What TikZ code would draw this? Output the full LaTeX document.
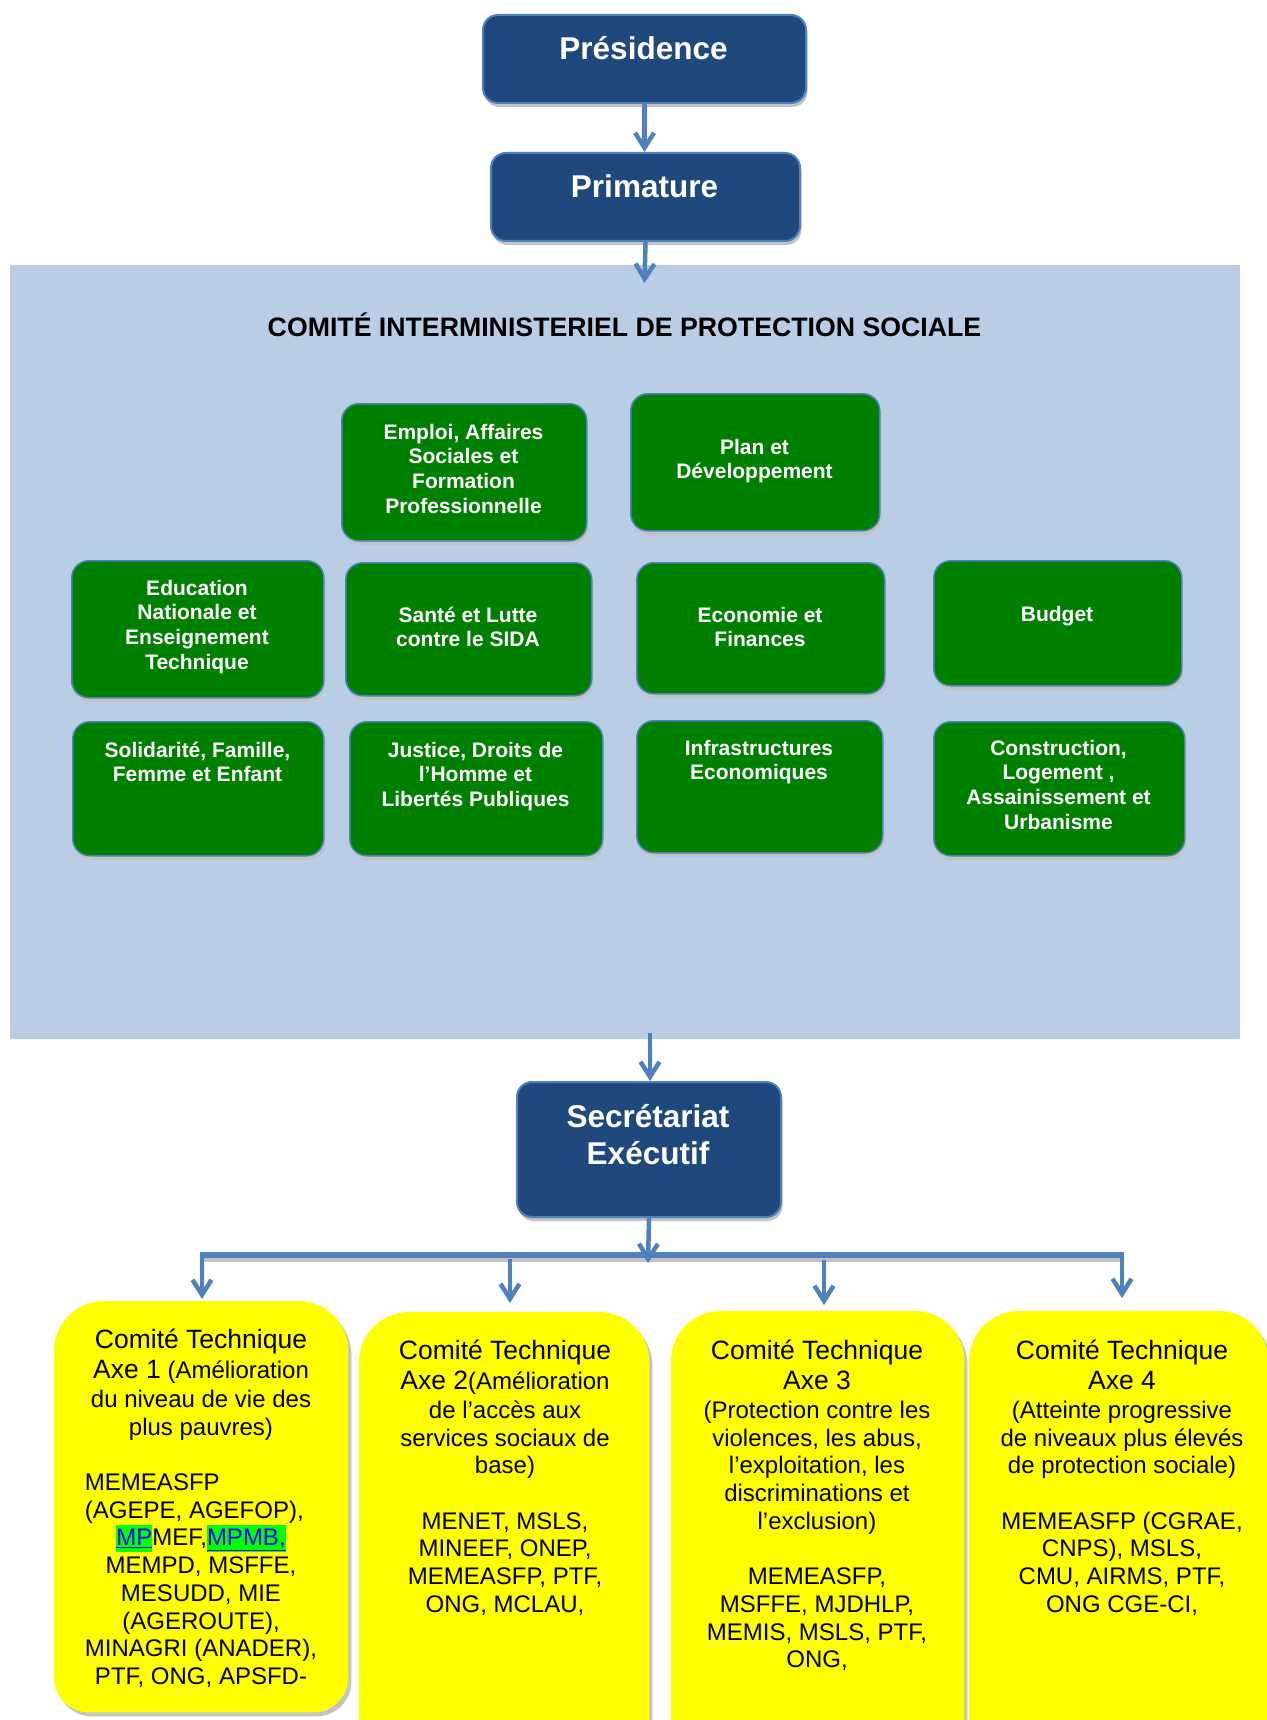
\documentclass[tikz,border=0pt]{standalone}
\usepackage{fontspec}
\setmainfont{Liberation Sans}
\usepackage{calc}
\usetikzlibrary{arrows.meta,shadows}
\definecolor{navy}{RGB}{31,73,125}
\definecolor{edgeblue}{RGB}{79,129,189}
\definecolor{panelblue}{RGB}{185,205,229}
\definecolor{mgreen}{RGB}{0,128,0}
\definecolor{hlgreen}{RGB}{0,255,0}
\definecolor{linkblue}{RGB}{0,0,255}
\definecolor{shadowgray}{RGB}{195,195,195}
\definecolor{yfill}{RGB}{255,255,0}
\newcommand{\hlt}[1]{{\setlength{\fboxsep}{0pt}\colorbox{hlgreen}{\rule[-6pt]{0pt}{27pt}\textcolor{linkblue}{\underline{#1}}}}}
\newcommand{\ttl}[1]{{\fontsize{26.5}{27.7}\selectfont #1}}
\tikzset{
  myshadow/.style={drop shadow={shadow xshift=1.5pt, shadow yshift=-4pt, fill=shadowgray, opacity=1}},
  bluebox/.style={draw=edgeblue, line width=2pt, fill=navy, rounded corners=15pt, inner sep=0pt, anchor=north west, myshadow},
  greenbox/.style={draw=edgeblue, line width=1.5pt, fill=mgreen, rounded corners=17pt, inner sep=0pt, anchor=north west, myshadow},
  bluetext/.style={text=white, font=\fontsize{31.5}{37}\selectfont\bfseries, anchor=base, inner sep=0pt},
  greentext/.style={text=white, font=\fontsize{21}{24.7}\selectfont\bfseries, anchor=base, inner sep=0pt},
  ytext/.style={text=black, font=\fontsize{24}{27.7}\selectfont, anchor=base, inner sep=0pt},
  yslot/.style={anchor=north west, inner sep=0pt},
  arr/.style={draw=edgeblue, line width=4.5pt, -{Straight Barb[length=15pt,width=19pt]}},
}
\begin{document}
\begin{tikzpicture}[x=1pt,y=-1pt]
\useasboundingbox (0,0) rectangle (1266,1720);
\fill[white] (0,0) rectangle (1266,1720);

% panel
\node[fill=panelblue, anchor=north west, minimum width=1230pt, minimum height=774pt, inner sep=0pt] (panel) at (10,265) {};
\node[font=\fontsize{26.7}{30}\selectfont\bfseries, anchor=base, inner sep=0pt] (title) at (624.5,336.7) {COMITÉ INTERMINISTERIEL DE PROTECTION SOCIALE};

% green boxes
\node[greenbox, minimum width=245pt, minimum height=137pt] (emploi) at (341,403) {};
\node[greenbox, minimum width=249pt, minimum height=137pt] (plan) at (630,393) {};
\node[greenbox, minimum width=252pt, minimum height=137pt] (educ) at (71,560) {};
\node[greenbox, minimum width=246pt, minimum height=133pt] (sante) at (345,562) {};
\node[greenbox, minimum width=248pt, minimum height=131pt] (eco) at (636,562) {};
\node[greenbox, minimum width=248pt, minimum height=125pt] (budget) at (933,560) {};
\node[greenbox, minimum width=251pt, minimum height=134pt] (solid) at (72,721) {};
\node[greenbox, minimum width=253pt, minimum height=134pt] (justice) at (349,721) {};
\node[greenbox, minimum width=246pt, minimum height=132pt] (infra) at (636,720) {};
\node[greenbox, minimum width=251pt, minimum height=134pt] (constr) at (933,721) {};

\node[greentext] (temploi) at (463.5,439) {\parbox[t]{240pt}{\centering Emploi, Affaires\\Sociales et\\Formation\\Professionnelle}};
\node[greentext] (tplan) at (754.5,454) {\parbox[t]{240pt}{\centering Plan et\\Développement}};
\node[greentext] (teduc) at (197,595) {\parbox[t]{240pt}{\centering Education\\Nationale et\\Enseignement\\Technique}};
\node[greentext] (tsante) at (468,622) {\parbox[t]{240pt}{\centering Santé et Lutte\\contre le SIDA}};
\node[greentext] (teco) at (760,622) {\parbox[t]{240pt}{\centering Economie et\\Finances}};
\node[greentext] (tbudget) at (1057,621) {\parbox[t]{240pt}{\centering Budget}};
\node[greentext] (tsolid) at (197.5,757) {\parbox[t]{245pt}{\centering Solidarité, Famille,\\Femme et Enfant}};
\node[greentext] (tjustice) at (475.5,757) {\parbox[t]{245pt}{\centering Justice, Droits de\\l’Homme et\\Libertés Publiques}};
\node[greentext] (tinfra) at (759,755) {\parbox[t]{240pt}{\centering Infrastructures\\Economiques}};
\node[greentext] (tconstr) at (1058.5,755) {\parbox[t]{245pt}{\centering Construction,\\Logement ,\\Assainissement et\\Urbanisme}};

% blue boxes
\node[bluebox, minimum width=323pt, minimum height=88pt] (pres) at (482,14) {};
\node[bluebox, minimum width=309pt, minimum height=88pt] (prim) at (490,152) {};
\node[bluebox, minimum width=264pt, minimum height=135pt] (sec) at (516,1081) {};
\node[bluetext] (tpres) at (643.5,59.3) {Présidence};
\node[bluetext] (tprim) at (644.5,197.7) {Primature};
\node[bluetext] (tsec) at (648,1127) {\parbox[t]{250pt}{\centering Secrétariat\\Exécutif}};

% yellow boxes (slots)
\node[yslot, minimum width=294pt, minimum height=411pt] (ax1) at (54,1301) {};
\node[yslot, minimum width=290pt, minimum height=470pt] (ax2) at (359,1312) {};
\node[yslot, minimum width=293pt, minimum height=470pt] (ax3) at (671,1311) {};
\node[yslot, minimum width=299pt, minimum height=470pt] (ax4) at (969,1311) {};

\foreach \b in {ax1,ax2,ax3,ax4}{
  \fill[shadowgray, transform canvas={shift={(3pt,-4pt)}}] (\b.west) [rounded corners=50pt] -- (\b.north west) -- (\b.north east) -- (\b.east) [rounded corners=35pt] -- (\b.south east) -- (\b.south west) -- cycle;
  \fill[yfill] (\b.west) [rounded corners=50pt] -- (\b.north west) -- (\b.north east) -- (\b.east) [rounded corners=35pt] -- (\b.south east) -- (\b.south west) -- cycle;
}

\node[ytext] (tax1) at (201,1348) {\parbox[t]{300pt}{\centering
\ttl{Comité Technique}\\[3pt]
\ttl{Axe 1} (Amélioration\\[1pt]
du niveau de vie des\\
plus pauvres)\\[27.7pt]
\makebox[\widthof{MINAGRI (ANADER),}][l]{MEMEASFP}\\
\makebox[\widthof{MINAGRI (ANADER),}][l]{(AGEPE, AGEFOP),}\\
\hlt{MP}MEF,\hlt{MPMB,}\\
MEMPD, MSFFE,\\
MESUDD, MIE\\
(AGEROUTE),\\
MINAGRI (ANADER),\\
PTF, ONG, APSFD-}};

\node[ytext] (tax2) at (505,1359) {\parbox[t]{300pt}{\centering
\ttl{Comité Technique}\\[3pt]
\ttl{Axe 2}(Amélioration\\[1pt]
de l’accès aux\\
services sociaux de\\
base)\\[27.7pt]
MENET, MSLS,\\
MINEEF, ONEP,\\
MEMEASFP, PTF,\\
ONG, MCLAU,}};

\node[ytext] (tax3) at (817,1359) {\parbox[t]{300pt}{\centering
\ttl{Comité Technique}\\[3pt]
\ttl{Axe 3}\\[1pt]
(Protection contre les\\
violences, les abus,\\
l’exploitation, les\\
discriminations et\\
l’exclusion)\\[27.7pt]
MEMEASFP,\\
MSFFE, MJDHLP,\\
MEMIS, MSLS, PTF,\\
ONG,}};

\node[ytext] (tax4) at (1122,1359) {\parbox[t]{300pt}{\centering
\ttl{Comité Technique}\\[3pt]
\ttl{Axe 4}\\[1pt]
(Atteinte progressive\\
de niveaux plus élevés\\
de protection sociale)\\[27.7pt]
MEMEASFP (CGRAE,\\
CNPS), MSLS,\\
CMU, AIRMS, PTF,\\
ONG CGE-CI,}};

% connectors
\coordinate (pin) at (644.5,283);
\coordinate (pout) at (650,1033);
\coordinate (jn) at (648,1263);
\coordinate (bl) at (202,1255);
\coordinate (br) at (1122,1255);
\coordinate (b2) at (510,1259);
\coordinate (b3) at (824,1260);

\draw[arr] (pres.south) -- (pres.south |- prim.north);
\draw[arr] (prim.south) -- (pin);
\draw[arr] (pout) -- (pout |- sec.north);

\draw[shadowgray, line width=4pt] ([shift={(2pt,-4.5pt)}]bl) -- ([shift={(2pt,-4.5pt)}]br);
\draw[edgeblue, line width=5.3pt] ([xshift=-2.3pt]bl) -- ([xshift=2.3pt]br);
\draw[arr] (sec.south) -- (jn);
\draw[arr, shorten >=2pt] ([yshift=2.6pt]bl) -- (bl |- ax1.north);
\draw[arr, shorten >=9pt] (b2) -- (b2 |- ax2.north);
\draw[arr, shorten >=6pt] (b3) -- (b3 |- ax3.north);
\draw[arr, shorten >=13pt] ([yshift=2.6pt]br) -- (br |- ax4.north);
\end{tikzpicture}
\end{document}
